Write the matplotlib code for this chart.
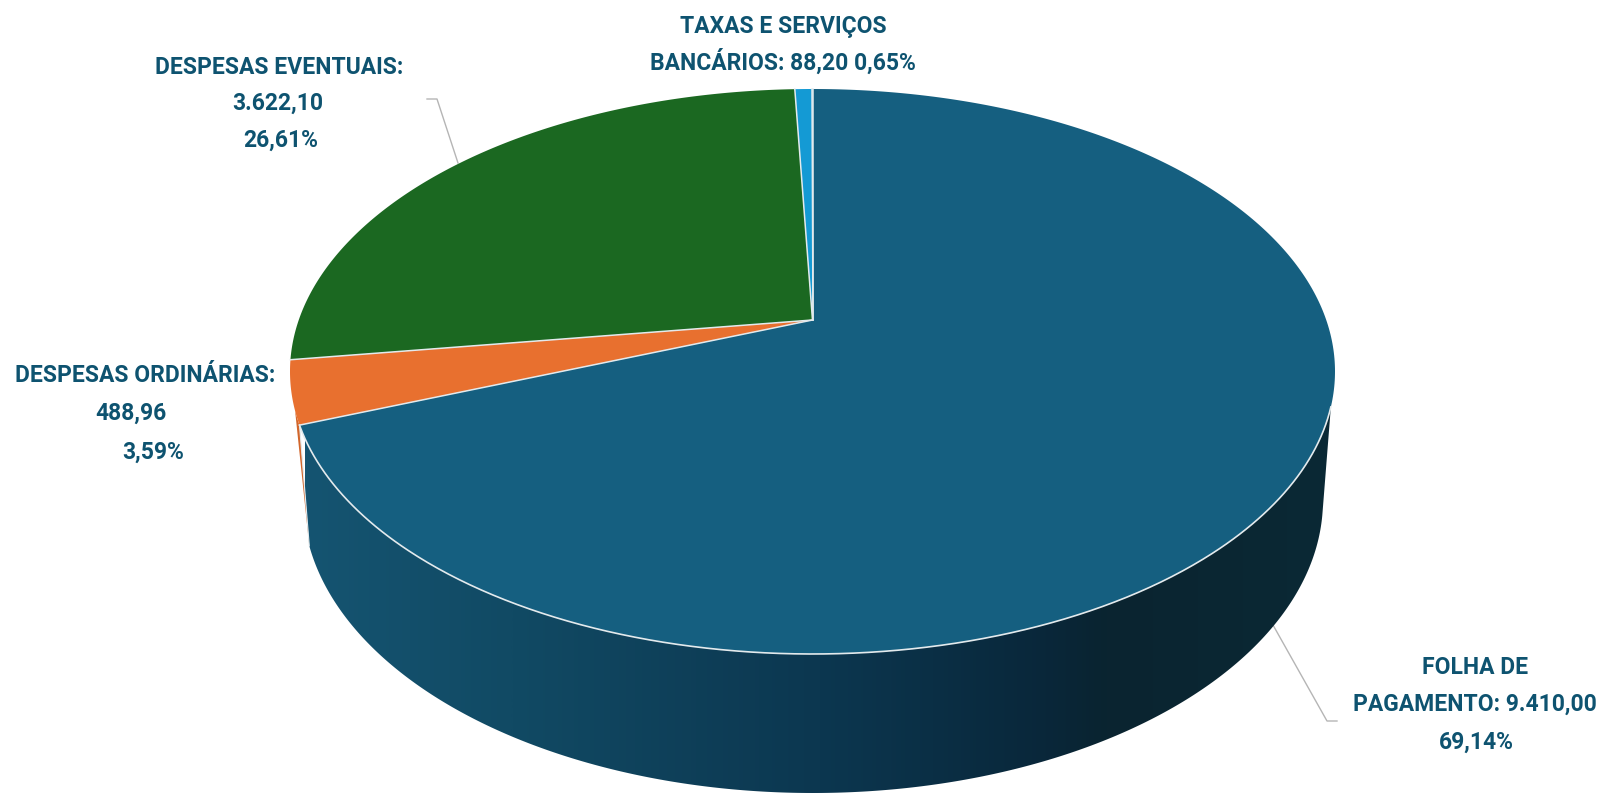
import numpy as np
import matplotlib
matplotlib.use('Agg')
import matplotlib.pyplot as plt
from matplotlib.colors import LinearSegmentedColormap
from matplotlib.patches import Polygon

# data, clockwise from the top of the pie
categories = ['FOLHA DE PAGAMENTO', 'DESPESAS ORDINÁRIAS', 'DESPESAS EVENTUAIS', 'TAXAS E SERVIÇOS BANCÁRIOS']
values = [9410.00, 488.96, 3622.10, 88.20]
value_labels = ['9.410,00', '488,96', '3.622,10', '88,20']
pct_labels = ['69,14%', '3,59%', '26,61%', '0,65%']
colors = ['#155f80', '#e8702f', '#1b6821', '#149ad4']

W, H = 1603, 793
text_col = '#0e5370'
edge_col = '#e3eaed'

# top face ellipse and bottom rim ellipse, in pixels
cx, cy, a, b = 812.5, 371.5, 522.5, 282.5
bx, by, ba, bb = 813, 500, 510, 293
apex_y = 320
k = (cy - apex_y) / b  # tilt: moves the apex off the ellipse centre


def top_xy(theta):
    # theta in radians, clockwise from top
    x, y = np.sin(theta), np.cos(theta)
    d = 1 + k * y
    return cx + a * x * np.sqrt(1 - k ** 2) / d, cy - b * (y + k) / d


def phi_of(theta):
    # angle on the ellipse, measured in screen coords (y down)
    x, y = top_xy(theta)
    return np.arctan2((y - cy) / b, (x - cx) / a)


fig = plt.figure(figsize=(W / 100, H / 100), dpi=100)
ax = fig.add_axes([0, 0, 1, 1])

edges = 2 * np.pi * np.cumsum([0] + values) / sum(values)

# side wall
side_cmap = LinearSegmentedColormap.from_list('side', [
    (0.0, '#155471'), (0.2, '#114a64'), (0.5, '#0c3750'),
    (0.72, '#09273a'), (0.78, '#0a2430'), (1.0, '#0b2935')])
phi_a = np.radians(7.2)
phi_b = phi_of(edges[1])  # blue wedge end, on the left
psi_a, psi_b = np.radians(3), np.radians(171)
tx = cx + a * np.cos(np.linspace(phi_a, phi_b, 300))
ty = cy + b * np.sin(np.linspace(phi_a, phi_b, 300))
psis = np.linspace(psi_a, psi_b, 300)
qx = bx + ba * np.cos(psis)
qy = by + bb * np.sin(psis)

# orange sliver left of the blue wall
sl = np.linspace(np.radians(172), phi_b, 20)
ax.fill(np.r_[cx + a * np.cos(sl), qx[-1]], np.r_[cy + b * np.sin(sl), qy[-1]],
        color='#d2662b', lw=0, zorder=1)

wall = Polygon(np.c_[np.r_[tx, qx[::-1]], np.r_[ty, qy[::-1]]], closed=True,
               fc='none', ec='none', transform=ax.transData)
ax.add_patch(wall)
grad = np.linspace(0, 1, 512).reshape(1, -1)
im = ax.imshow(grad, extent=[305, 1335, H, 0], aspect='auto', cmap=side_cmap,
               zorder=2, interpolation='bilinear')
im.set_clip_path(wall)
ax.plot([tx[-1], qx[-1]], [ty[-1], qy[-1]], color=edge_col, lw=0.8, zorder=3)

# top face
for i, col in enumerate(colors):
    th = np.linspace(edges[i], edges[i + 1], 400)
    x, y = top_xy(th)
    ax.fill(np.r_[cx, x], np.r_[apex_y, y], color=col, lw=0, zorder=4)
    # white separators between slices
    ax.plot([cx, x[0]], [apex_y, y[0]], color=edge_col, lw=1.1, zorder=5)
ax.plot([cx, x[-1]], [apex_y, y[-1]], color=edge_col, lw=1.1, zorder=5)

# light rim along the front of the top face
rim = np.linspace(phi_a, phi_b, 400)
ax.plot(cx + a * np.cos(rim), cy + b * np.sin(rim), color=edge_col, lw=1.2, zorder=5)

# leader lines
ax.plot([427, 437, 458], [99, 99, 163], color='#b5b5b5', lw=1, zorder=0)
ax.plot([1273, 1327, 1337], [625, 721, 721], color='#b5b5b5', lw=1, zorder=0)

# labels
font = dict(family=['Roboto', 'DejaVu Sans'], weight='bold',
            color=text_col, ha='center', va='center', fontsize=16.5)
ax.text(1475, 668, 'FOLHA DE', **font)
ax.text(1475, 704, 'PAGAMENTO: ' + value_labels[0], **font)
ax.text(1476, 742, pct_labels[0], **font)
ax.text(145, 376, 'DESPESAS ORDINÁRIAS:', **font)
ax.text(131, 413, value_labels[1], **font)
ax.text(153, 452, pct_labels[1], **font)
ax.text(279, 67, 'DESPESAS EVENTUAIS:', **font)
ax.text(278, 103, value_labels[2], **font)
ax.text(281, 140, pct_labels[2], **font)
ax.text(783, 26, 'TAXAS E SERVIÇOS', **font)
ax.text(783, 62, 'BANCÁRIOS: ' + value_labels[3] + ' ' + pct_labels[3], **font)

ax.set_xlim(0, W)
ax.set_ylim(H, 0)
ax.axis('off')

fig.savefig('out.png', dpi=100, facecolor='white')
